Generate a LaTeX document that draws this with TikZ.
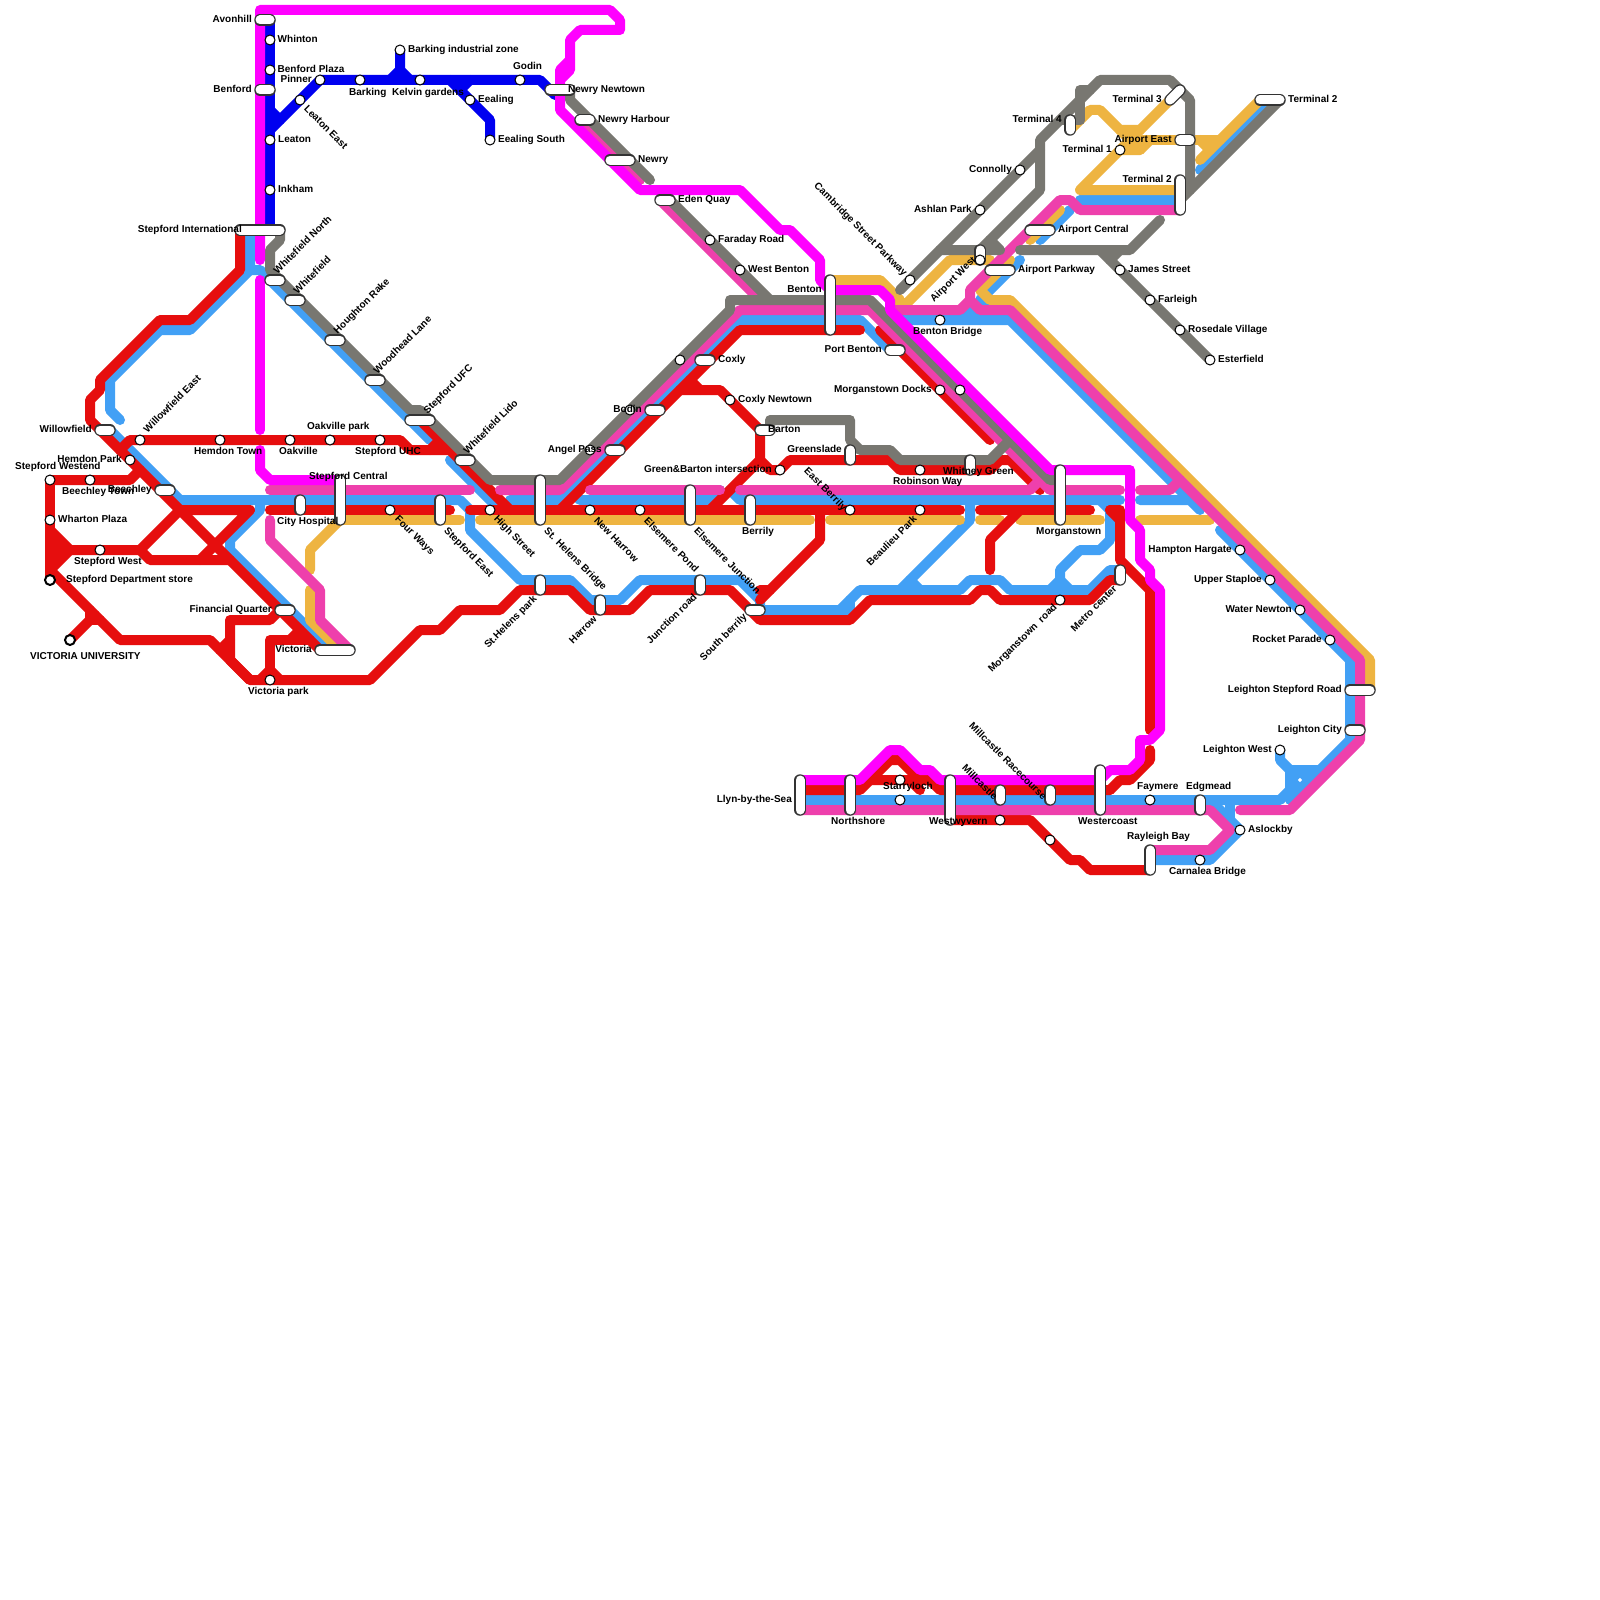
\documentclass[tikz,border=0pt]{standalone}
\usepackage{fontspec}
\setmainfont{Liberation Sans}
\definecolor{cRed}{RGB}{230,14,14}
\definecolor{cBlue}{RGB}{66,160,245}
\definecolor{cDark}{RGB}{0,0,240}
\definecolor{cMag}{RGB}{255,0,255}
\definecolor{cPink}{RGB}{238,64,172}
\definecolor{cGrey}{RGB}{120,119,113}
\definecolor{cYel}{RGB}{238,180,65}
\tikzset{
 tube/.style={line width=10pt,line cap=round,line join=round},
 rl/.style={tube,draw=cRed}, bl/.style={tube,draw=cBlue}, dl/.style={tube,draw=cDark},
 ml/.style={tube,draw=cMag}, pl/.style={tube,draw=cPink}, gl/.style={tube,draw=cGrey}, yl/.style={tube,draw=cYel},
 pillo/.style={line width=11.5pt,line cap=round,draw=black!80},
 pilli/.style={line width=9pt,line cap=round,draw=white},
 stn/.style={draw=black,fill=white,line width=1pt},
 stnb/.style={draw=black,fill=white,line width=2pt},
 lbl/.style={font=\bfseries\fontsize{10pt}{10pt}\selectfont,inner sep=0pt,text=black,text height=7.2pt,text depth=0pt}
}
\newcommand\Pill[4]{\draw[pillo] (#1,#2)--(#3,#4); \draw[pilli] (#1,#2)--(#3,#4);}
\newcommand\Stn[2]{\draw[stn] (#1,#2) circle (5pt);}
\newcommand\LW[4]{\node[lbl,anchor=west] (#1) at (#2,#3) {#4};}
\newcommand\LE[4]{\node[lbl,anchor=east] (#1) at (#2,#3) {#4};}
\newcommand\RW[5]{\node[lbl,anchor=west,rotate=#4] (#1) at (#2,#3) {#5};}
\newcommand\RE[5]{\node[lbl,anchor=east,rotate=#4] (#1) at (#2,#3) {#5};}
\begin{document}
\begin{tikzpicture}[x=1pt,y=-1pt]
\useasboundingbox[fill=white] (0,0) rectangle (1600,1600);
% dark blue
\draw[dl] (270,20)--(270,230);
\draw[dl] (270,130)--(320,80)--(540,80)--(555,95);
\draw[dl] (270,110)--(280,120);
\draw[dl] (400,50)--(400,70)--(410,80);
\draw[dl] (400,70)--(390,80);
\draw[dl] (450,80)--(490,120)--(490,140);
\draw[dl] (470,80)--(460,90);
% light blue
\draw[bl] (120,420)--(110,410)--(110,380)--(160,330)--(190,330)--(250,270)--(250,230);
\draw[bl] (250,270)--(260,270)--(430,440);
\draw[bl] (110,430)--(180,500)--(460,500)--(470,510)--(470,530)--(520,580)--(570,580)--(590,600)--(620,600)--(640,580)--(740,580)--(760,600)--(760,610)--(840,610)--(860,590)--(960,590)--(970,580)--(1000,580)--(1010,590)--(1090,590)--(1110,570)--(1120,570);
\draw[bl] (850,600)--(850,610)--(840,610);
\draw[bl] (260,500)--(260,510)--(230,540)--(230,550)--(330,650);
\draw[bl] (450,460)--(500,510);
\draw[bl] (510,500)--(560,500)--(740,320)--(860,320)--(890,350);
\draw[bl] (570,490)--(580,500)--(710,500)--(720,490);
\draw[bl] (730,490)--(740,500)--(1120,500);
\draw[bl] (970,500)--(970,520)--(900,590);
\draw[bl] (910,580)--(920,590);
\draw[bl] (1100,500)--(1110,510)--(1110,540)--(1100,550)--(1080,550)--(1060,570)--(1060,580)--(1050,590);
\draw[bl] (1060,580)--(1070,590);
\draw[bl] (1140,500)--(1190,500)--(1200,510);
\draw[bl] (900,315)--(905,320)--(1010,320)--(1190,500);
\draw[bl] (960,320)--(970,310)--(980,320);
\draw[bl] (1220,530)--(1350,660)--(1350,740)--(1290,800);
\draw[bl] (800,800)--(1280,800)--(1290,790)--(1290,770)--(1280,760)--(1280,750);
\draw[bl] (1290,770)--(1320,770);
\fill[cBlue] (1290,770)--(1320,770)--(1290,800)--cycle;
\fill[white] (1300,777.8)--(1302.2,780)--(1300,782.2)--(1297.8,780)--cycle;
\draw[bl] (1210,800)--(1240,830)--(1210,860)--(1150,860);
\draw[bl] (1230,800)--(1230,820);
\draw[bl] (1080,200)--(1180,200);
\draw[bl] (1270,100)--(1200,170);
\draw[bl] (1070,210)--(1040,240);
\draw[bl] (1020,260)--(980,300)--(985,305);
% yellow
\draw[yl] (340,520)--(460,520);
\draw[yl] (480,520)--(810,520);
\draw[yl] (830,520)--(960,520);
\draw[yl] (980,520)--(1000,520);
\draw[yl] (1020,520)--(1100,520);
\draw[yl] (1140,520)--(1210,520);
\draw[yl] (340,520)--(310,550)--(310,570);
\draw[yl] (310,590)--(310,620)--(340,650);
\draw[yl] (1070,130)--(1090,110)--(1100,110)--(1120,130)--(1140,130)--(1170,100);
\draw[yl] (1120,130)--(1140,150);
\draw[yl] (1140,130)--(1120,150);
\draw[yl] (1130,140)--(1220,140);
\draw[yl] (1200,140)--(1210,150);
\draw[yl] (1180,190)--(1080,190)--(1120,150)--(1140,150)--(1150,140);
\draw[yl] (1260,100)--(1200,160);
\draw[yl] (1060,210)--(1030,240);
\draw[yl] (830,280)--(880,280)--(900,300)--(900,310)--(950,260)--(990,260);
\draw[yl] (1010,260)--(980,290)--(990,300)--(1010,300)--(1370,660)--(1370,690);
% red
\draw[rl] (240,230)--(240,270)--(190,320)--(160,320)--(100,380)--(100,390)--(90,400)--(90,420)--(320,650);
\draw[rl] (180,510)--(250,510)--(200,560);
\draw[rl] (270,510)--(450,510);
\draw[rl] (470,510)--(960,510);
\draw[rl] (980,510)--(1090,510);
\draw[rl] (120,450)--(130,440)--(400,440)--(410,450)--(450,450);
\draw[rl] (440,440)--(430,450);
\draw[rl] (420,420)--(510,510);
\draw[rl] (50,480)--(130,480)--(140,470);
\draw[rl] (50,480)--(50,580);
\draw[rl] (50,530)--(70,550)--(140,550)--(150,560)--(230,560);
\draw[rl] (140,550)--(180,510);
\draw[rl] (50,570)--(70,550);
\fill[cRed] (50,530)--(70,550)--(50,570)--cycle;
\draw[rl] (50,570)--(120,640)--(210,640)--(250,680)--(370,680)--(420,630)--(440,630)--(460,610)--(500,610)--(520,590)--(570,590)--(590,610)--(630,610)--(650,590)--(730,590)--(760,620)--(850,620)--(870,600)--(970,600)--(980,590)--(990,590)--(1000,600)--(1090,600)--(1110,580)--(1120,580);
\draw[rl] (70,640)--(95,615);
\draw[rl] (90,610)--(90,620)--(100,620);
\draw[rl] (220,650)--(230,640);
\draw[rl] (280,610)--(270,620)--(230,620)--(230,660)--(250,680);
\draw[rl] (270,680)--(270,640)--(310,640);
\draw[rl] (290,640)--(300,630);
\draw[rl] (260,680)--(270,670)--(280,680);
\draw[rl] (560,510)--(740,330)--(860,330);
\draw[rl] (880,330)--(990,440);
\draw[rl] (680,390)--(720,390)--(760,430)--(760,460)--(770,470)--(780,470)--(790,460)--(890,460)--(900,470)--(990,470)--(1000,460)--(1010,460)--(1040,490);
\draw[rl] (690,380)--(700,390);
\draw[rl] (760,460)--(710,510);
\draw[rl] (820,510)--(820,540)--(760,600);
\draw[rl] (760,590)--(770,590);
\draw[rl] (1020,510)--(990,540)--(990,570);
\draw[rl] (1110,510)--(1120,520);
\draw[rl] (1110,510)--(1120,510)--(1120,560)--(1150,590)--(1150,730);
\draw[rl] (1150,750)--(1150,760)--(1130,780)--(1120,780)--(1110,790);
\draw[rl] (800,790)--(860,790)--(890,760)--(900,760)--(920,780)--(930,780)--(940,790)--(1110,790);
\draw[rl] (870,780)--(910,780)--(920,790);
\draw[rl] (950,820)--(1030,820)--(1070,860)--(1080,860)--(1090,870)--(1150,870);
% pink
\draw[pl] (270,490)--(470,490);
\draw[pl] (500,490)--(560,490)--(740,310)--(870,310)--(1040,480);
\draw[pl] (590,490)--(720,490);
\draw[pl] (740,490)--(1030,490)--(1040,480)--(1050,490)--(1120,490);
\draw[pl] (270,520)--(270,540)--(320,590)--(320,620)--(350,650);
\draw[pl] (580,120)--(640,180);
\draw[pl] (660,200)--(760,300);
\draw[pl] (1180,210)--(1080,210)--(1070,200)--(1060,200)--(970,290)--(970,300)--(960,310)--(890,310);
\draw[pl] (970,300)--(980,310)--(1010,310)--(1360,660)--(1360,740)--(1290,810)--(1240,810);
\draw[pl] (1140,490)--(1170,490)--(1180,480);
\draw[pl] (800,810)--(1210,810)--(1230,830)--(1210,850)--(1150,850);
% grey
\draw[gl] (280,230)--(280,240)--(270,250)--(270,270)--(410,410)--(420,410)--(490,480)--(560,480)--(730,310)--(730,300)--(870,300)--(880,310)--(1050,480)--(1060,480);
\draw[gl] (570,90)--(570,100)--(650,180);
\draw[gl] (670,200)--(770,300);
\draw[gl] (770,430)--(770,420)--(850,420)--(850,440)--(860,450)--(890,450)--(900,460)--(990,460)--(1010,440);
\draw[gl] (900,290)--(1040,150)--(1040,140)--(1100,80)--(1170,80)--(1190,100)--(1190,190);
\draw[gl] (1080,120)--(1080,90)--(1090,90);
\draw[gl] (1060,120)--(1080,120);
\draw[gl] (1040,150)--(1040,190)--(980,250);
\draw[gl] (940,250)--(1000,250)--(990,240);
\draw[gl] (1020,250)--(1130,250)--(1160,220);
\draw[gl] (1100,250)--(1210,360);
\draw[gl] (1120,250)--(1110,260);
\draw[gl] (1280,100)--(1180,200);
% magenta
\draw[ml] (260,260)--(260,10)--(610,10)--(620,20)--(620,30)--(580,30)--(570,40)--(570,70)--(560,80)--(560,110)--(640,190)--(740,190)--(780,230)--(790,230)--(820,260)--(820,280)--(830,290)--(880,290)--(890,300)--(890,310)--(1050,470)--(1130,470)--(1130,520)--(1140,530)--(1140,560)--(1150,570)--(1150,580)--(1160,590)--(1160,730)--(1150,740)--(1140,740)--(1140,760)--(1130,770)--(1110,770)--(1100,780)--(940,780)--(930,770)--(920,770)--(900,750)--(890,750)--(860,780)--(800,780);
\draw[ml] (570,60)--(560,70)--(560,80);
\draw[ml] (260,280)--(260,430);
\draw[ml] (260,450)--(260,470)--(270,480)--(340,480);
% stations: pills
\Pill{260}{20}{270}{20}
\Pill{260}{90}{270}{90}
\Pill{240}{230}{280}{230}
\Pill{270}{280}{280}{280}
\Pill{290}{300}{300}{300}
\Pill{330}{340}{340}{340}
\Pill{370}{380}{380}{380}
\Pill{410}{420}{430}{420}
\Pill{460}{460}{470}{460}
\Pill{100}{430}{110}{430}
\Pill{160}{490}{170}{490}
\Pill{300}{500}{300}{510}
\Pill{340}{480}{340}{520}
\Pill{440}{500}{440}{520}
\Pill{280}{610}{290}{610}
\Pill{320}{650}{350}{650}
\Pill{540}{480}{540}{520}
\Pill{550}{90}{570}{90}
\Pill{580}{120}{590}{120}
\Pill{610}{160}{630}{160}
\Pill{660}{200}{670}{200}
\Pill{830}{280}{830}{330}
\Pill{700}{360}{710}{360}
\Pill{650}{410}{660}{410}
\Pill{610}{450}{620}{450}
\Pill{760}{430}{770}{430}
\Pill{850}{450}{850}{460}
\Pill{690}{490}{690}{520}
\Pill{750}{500}{750}{520}
\Pill{540}{580}{540}{590}
\Pill{600}{600}{600}{610}
\Pill{700}{580}{700}{590}
\Pill{750}{610}{760}{610}
\Pill{890}{350}{900}{350}
\Pill{970}{460}{970}{470}
\Pill{1060}{470}{1060}{520}
\Pill{1120}{570}{1120}{580}
\Pill{1030}{230}{1050}{230}
\Pill{990}{270}{1010}{270}
\Pill{980}{250}{980}{260}
\Pill{1070}{120}{1070}{130}
\Pill{1170}{100}{1180}{90}
\Pill{1180}{180}{1180}{210}
\Pill{1180}{140}{1190}{140}
\Pill{1260}{100}{1280}{100}
\Pill{1350}{690}{1370}{690}
\Pill{1350}{730}{1360}{730}
\Pill{1200}{800}{1200}{810}
\Pill{1150}{850}{1150}{870}
\Pill{800}{780}{800}{810}
\Pill{850}{780}{850}{810}
\Pill{950}{780}{950}{820}
\Pill{1000}{790}{1000}{800}
\Pill{1050}{790}{1050}{800}
\Pill{1100}{770}{1100}{810}
% stations: circles
\Stn{270}{40}\Stn{270}{70}\Stn{300}{100}\Stn{320}{80}\Stn{360}{80}\Stn{400}{50}\Stn{420}{80}\Stn{520}{80}\Stn{470}{100}\Stn{490}{140}\Stn{270}{140}\Stn{270}{190}
\Stn{140}{440}\Stn{220}{440}\Stn{290}{440}\Stn{330}{440}\Stn{380}{440}\Stn{130}{460}\Stn{50}{480}\Stn{90}{480}\Stn{50}{520}\Stn{100}{550}\Stn{270}{680}
\Stn{390}{510}\Stn{490}{510}\Stn{590}{510}\Stn{640}{510}\Stn{710}{240}\Stn{740}{270}\Stn{680}{360}\Stn{630}{410}\Stn{590}{450}\Stn{730}{400}\Stn{780}{470}
\Stn{850}{510}\Stn{920}{510}\Stn{920}{470}\Stn{940}{390}\Stn{960}{390}\Stn{910}{280}\Stn{980}{210}\Stn{1020}{170}\Stn{980}{260}\Stn{940}{320}
\Stn{1120}{270}\Stn{1150}{300}\Stn{1180}{330}\Stn{1210}{360}\Stn{1120}{150}\Stn{1240}{550}\Stn{1270}{580}\Stn{1300}{610}\Stn{1330}{640}\Stn{1280}{750}\Stn{1240}{830}\Stn{1200}{860}
\Stn{1150}{800}\Stn{1000}{820}\Stn{1050}{840}\Stn{900}{780}\Stn{900}{800}\Stn{1060}{600}
\draw[stnb] (50,580) circle (5pt);
\draw[stnb] (70,640) circle (5pt);
% labels
\LE{a1}{252}{19}{Avonhill}
\LW{a2}{277.5}{39}{Whinton}
\LW{a3}{277.5}{69}{Benford Plaza}
\LE{a4}{312}{79}{Pinner}
\LE{a5}{252}{89}{Benford}
\LW{a6}{349}{92}{Barking}
\LW{a7}{408}{49}{Barking industrial zone}
\LW{a8}{392}{92}{Kelvin gardens}
\LW{a9}{513}{66}{Godin}
\LW{a10}{478}{99}{Eealing}
\LW{a11}{498}{139}{Eealing South}
\LW{a12}{278}{139}{Leaton}
\LW{a13}{278}{189}{Inkham}
\LE{a14}{242}{229}{Stepford International}
\RW{a15}{306}{107}{-45}{Leaton East}
\RW{a16}{275}{272}{45}{Whitefield North}
\RW{a17}{295}{292}{45}{Whitefield}
\RW{a18}{335}{332}{45}{Houghton Rake}
\RW{a19}{375}{372}{45}{Woodhead Lane}
\RW{a20}{425}{412}{45}{Stepford UFC}
\RW{a21}{465}{452}{45}{Whitefield Lido}
\LE{b1}{92}{429}{Willowfield}
\RW{b2}{145}{431}{45}{Willowfield East}
\LE{b3}{122}{459}{Hemdon Park}
\LW{b4}{15}{466}{Stepford Westend}
\LW{b5}{62}{491}{Beechley Town}
\LE{b6}{152}{489}{Beechley}
\LW{b7}{58}{519}{Wharton Plaza}
\LW{b8}{74}{561}{Stepford West}
\LW{b9}{66}{579}{Stepford Department store}
\LW{b10}{30}{656}{VICTORIA UNIVERSITY}
\LW{b11}{194}{451}{Hemdon Town}
\LW{b12}{279}{451}{Oakville}
\LW{b13}{307}{426}{Oakville park}
\LW{b14}{355}{451}{Stepford UHC}
\LW{b15}{277}{521}{City Hospital}
\LW{b16}{309}{476}{Stepford Central}
\LE{b17}{272}{609}{Financial Quarter}
\LE{b18}{312}{649}{Victoria}
\LW{b19}{248}{691}{Victoria park}
\RW{b20}{397}{517}{-45}{Four Ways}
\RW{c1}{446}{529}{-45}{Stepford East}
\RW{c2}{496}{517}{-45}{High Street}
\RW{c3}{546}{529}{-45}{St. Helens Bridge}
\RW{c4}{596}{519}{-45}{New Harrow}
\RW{c5}{646}{519}{-45}{Elsemere Pond}
\RW{c6}{696}{529}{-45}{Elsemere Junction}
\RW{c7}{806}{469}{-45}{East Berrily}
\RE{c8}{535}{597}{45}{St.Helens park}
\RE{c9}{595}{617}{45}{Harrow}
\RE{c10}{695}{595}{45}{Junction road}
\RE{c11}{745}{615}{45}{South berrily}
\RE{c12}{915}{517}{45}{Beaulieu Park}
\RE{c13}{1055}{605}{45}{Morganstown\ \ road}
\RE{c14}{1115}{587}{45}{Metro center}
\LW{d1}{568}{89}{Newry Newtown}
\LW{d2}{598}{119}{Newry Harbour}
\LW{d3}{638}{159}{Newry}
\LW{d4}{678}{199}{Eden Quay}
\LW{d5}{718}{239}{Faraday Road}
\LW{d6}{748}{269}{West Benton}
\LE{d7}{822}{289}{Benton}
\LW{d8}{718}{359}{Coxly}
\LW{d9}{738}{399}{Coxly Newtown}
\LE{d10}{642}{409}{Bodin}
\LE{d11}{602}{449}{Angel Pass}
\LW{d12}{768}{429}{Barton}
\LE{d13}{842}{449}{Greenslade}
\LE{d14}{772}{469}{Green\&Barton intersection}
\LW{d15}{742}{531}{Berrily}
\LE{d16}{882}{349}{Port Benton}
\LE{d17}{932}{389}{Morganstown Docks}
\LW{d18}{913}{331}{Benton Bridge}
\RE{e1}{906}{274}{-45}{Cambridge Street Parkway}
\RE{e2}{974}{258}{45}{Airport West}
\LW{e3}{1058}{229}{Airport Central}
\LW{e4}{1018}{269}{Airport Parkway}
\LW{e5}{1128}{269}{James Street}
\LW{e6}{1158}{299}{Farleigh}
\LW{e7}{1188}{329}{Rosedale Village}
\LW{e8}{1218}{359}{Esterfield}
\LE{e9}{1012}{169}{Connolly}
\LE{e10}{972}{209}{Ashlan Park}
\LE{e11}{1062}{119}{Terminal 4}
\LE{e12}{1162}{99}{Terminal 3}
\LE{e13}{1112}{149}{Terminal 1}
\LE{e14}{1172}{179}{Terminal 2}
\LE{e15}{1172}{139}{Airport East}
\LW{e16}{1288}{99}{Terminal 2}
\LW{f1}{893}{481}{Robinson Way}
\LW{f2}{943}{471}{Whitney Green}
\LW{f3}{1036}{531}{Morganstown}
\LE{f4}{1232}{549}{Hampton Hargate}
\LE{f5}{1262}{579}{Upper Staploe}
\LE{f6}{1292}{609}{Water Newton}
\LE{f7}{1322}{639}{Rocket Parade}
\LE{f8}{1342}{689}{Leighton Stepford Road}
\LE{f9}{1342}{729}{Leighton City}
\LE{f10}{1272}{749}{Leighton West}
\LW{f11}{1248}{829}{Aslockby}
\LW{f12}{1137}{786}{Faymere}
\LW{f13}{1186}{786}{Edgmead}
\LW{f14}{1127}{836}{Rayleigh Bay}
\LW{f15}{1169}{871}{Carnalea Bridge}
\LW{f16}{1078}{821}{Westercoast}
\LW{f17}{831}{821}{Northshore}
\LW{f18}{929}{821}{Westwyvern}
\LW{f19}{883}{786}{Starryloch}
\RW{f20}{964}{766}{-45}{Millcastle}
\RW{f21}{971}{724}{-45}{Millcastle Racecourse}
\LE{f22}{792}{799}{Llyn-by-the-Sea}
\end{tikzpicture}
\end{document}
